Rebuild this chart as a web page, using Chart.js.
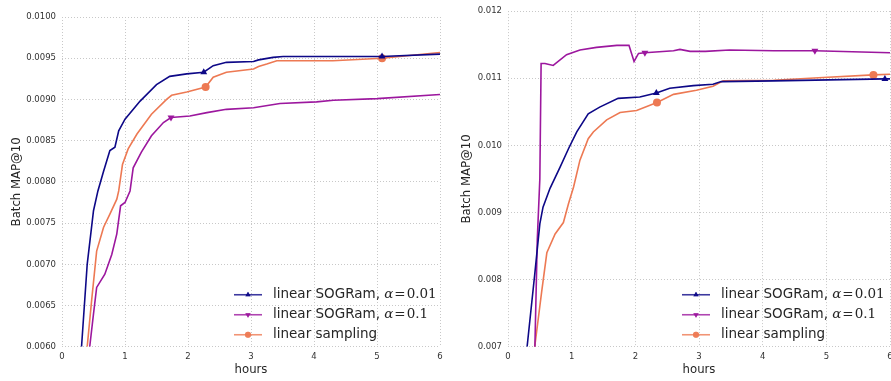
<!DOCTYPE html>
<html>
<head>
<meta charset="utf-8">
<script src="https://cdn.jsdelivr.net/npm/chart.js@4.4.1/dist/chart.umd.min.js"></script>
<style>
  html, body { margin: 0; padding: 0; background: #fff; overflow: hidden; width: 891px; height: 381px; }
  canvas { position: absolute; top: 0; }
  #chartLeft { left: 0; }
  #chartRight { left: 450px; }
</style>
</head>
<body>
<canvas id="chartLeft" width="450" height="381"></canvas>
<canvas id="chartRight" width="450" height="381"></canvas>
<script>
// series names + alpha values for the legend
const seriesNames = ['linear SOGRam, ', 'linear SOGRam, ', 'linear sampling'];
const alphaValues = ['0.01', '0.1', ''];
const colors = ['#0d0887', '#9c179e', '#ed7953'];
const markers = ['triangle', 'triangleDown', 'circle'];

// ---- left panel ----
const leftXTicks = [0, 1, 2, 3, 4, 5, 6];
const leftYTicks = [0.0060, 0.0065, 0.0070, 0.0075, 0.0080, 0.0085, 0.0090, 0.0095, 0.0100];

const leftNavyHours = [0.31, 0.40, 0.50, 0.57, 0.66, 0.76, 0.84, 0.90, 1.00, 1.24, 1.50, 1.71, 1.98, 2.25, 2.40, 2.61, 3.04, 3.12, 3.35, 3.51, 5.08, 6.00];
const leftNavyMap   = [0.0060, 0.0070, 0.00765, 0.00789, 0.00813, 0.00838, 0.00842, 0.00862, 0.00876, 0.00898, 0.00918, 0.00928, 0.00931, 0.00933, 0.00941, 0.00945, 0.00946, 0.00948, 0.00951, 0.00952, 0.00952, 0.00955];
const leftNavyMarks = [2.25, 5.08];

const leftPurpleHours = [0.44, 0.50, 0.55, 0.68, 0.79, 0.87, 0.93, 1.00, 1.08, 1.13, 1.26, 1.42, 1.61, 1.73, 2.03, 2.30, 2.61, 3.04, 3.46, 4.04, 4.31, 5.00, 6.00];
const leftPurpleMap   = [0.0060, 0.0064, 0.00672, 0.00688, 0.00712, 0.00737, 0.00771, 0.00775, 0.00789, 0.00817, 0.00836, 0.00856, 0.00872, 0.00878, 0.0088, 0.00884, 0.00888, 0.0089, 0.00895, 0.00897, 0.00899, 0.00901, 0.00906];
const leftPurpleMarks = [1.73];

const leftOrangeHours = [0.40, 0.47, 0.55, 0.66, 0.76, 0.87, 0.90, 0.96, 1.05, 1.19, 1.42, 1.66, 1.74, 1.98, 2.28, 2.40, 2.61, 3.04, 3.12, 3.25, 3.41, 4.30, 5.08, 6.00];
const leftOrangeMap   = [0.0060, 0.00656, 0.00716, 0.00745, 0.00761, 0.00779, 0.00789, 0.00821, 0.0084, 0.00858, 0.00882, 0.0090, 0.00905, 0.00909, 0.00915, 0.00927, 0.00933, 0.00937, 0.0094, 0.00943, 0.00947, 0.00947, 0.0095, 0.00957];
const leftOrangeMarks = [2.28, 5.08];

// ---- right panel ----
const rightXTicks = [0, 1, 2, 3, 4, 5, 6];
const rightYTicks = [0.007, 0.008, 0.009, 0.010, 0.011, 0.012];

const rightNavyHours = [0.30, 0.42, 0.50, 0.55, 0.66, 0.82, 0.95, 1.08, 1.26, 1.44, 1.73, 2.07, 2.33, 2.54, 2.91, 3.22, 3.35, 4.17, 5.92, 6.00];
const rightNavyMap   = [0.0070, 0.00808, 0.00883, 0.00908, 0.00936, 0.00968, 0.00995, 0.0102, 0.01047, 0.01057, 0.0107, 0.01072, 0.01078, 0.01085, 0.01089, 0.01091, 0.01095, 0.01096, 0.01099, 0.01099];
const rightNavyMarks = [2.33, 5.92];

const rightPurpleHours = [0.42, 0.46, 0.50, 0.52, 0.58, 0.71, 0.92, 1.13, 1.39, 1.71, 1.90, 1.98, 2.05, 2.15, 2.60, 2.70, 2.86, 3.10, 3.48, 4.17, 4.82, 6.00];
const rightPurpleMap   = [0.0069, 0.0086, 0.0095, 0.01122, 0.01122, 0.01119, 0.01135, 0.01142, 0.01146, 0.01149, 0.01149, 0.01125, 0.01137, 0.01138, 0.01141, 0.01143, 0.0114, 0.0114, 0.01142, 0.01141, 0.01141, 0.01138];
const rightPurpleMarks = [2.15, 4.82];

const rightOrangeHours = [0.42, 0.53, 0.61, 0.74, 0.87, 0.95, 1.03, 1.13, 1.26, 1.34, 1.55, 1.76, 2.02, 2.34, 2.60, 2.96, 3.22, 3.38, 4.17, 4.95, 5.74, 6.00];
const rightOrangeMap   = [0.0070, 0.00783, 0.0084, 0.00868, 0.00885, 0.00913, 0.00938, 0.00978, 0.0101, 0.0102, 0.01038, 0.01049, 0.01052, 0.01064, 0.01076, 0.01082, 0.01088, 0.01096, 0.01097, 0.01101, 0.01105, 0.01106];
const rightOrangeMarks = [2.34, 5.74];

const FONT = 'DejaVu Sans';

// draws the matplotlib-style legend (line + marker + text), bottom right of the plot
const lineLegend = {
  id: 'lineLegend',
  afterDatasetsDraw(chart, args, opts) {
    const ctx = chart.ctx;
    const area = chart.chartArea;
    const x0 = area.right - opts.width;
    ctx.save();
    chart.data.datasets.forEach((ds, i) => {
      const y = area.bottom - 12 - (2 - i) * 20;
      ctx.globalAlpha = 0.8;
      ctx.strokeStyle = colors[i];
      ctx.lineWidth = 1.6;
      ctx.beginPath();
      ctx.moveTo(x0, y);
      ctx.lineTo(x0 + 28, y);
      ctx.stroke();
      ctx.fillStyle = colors[i];
      Chart.helpers.drawPoint(ctx, {
        pointStyle: markers[i] === 'triangleDown' ? 'triangle' : markers[i],
        rotation: markers[i] === 'triangleDown' ? 180 : 0,
        radius: 3, borderWidth: 0
      }, x0 + 14, y);
      ctx.fill();
      ctx.globalAlpha = 1;
      ctx.fillStyle = '#262626';
      ctx.textBaseline = 'middle';
      ctx.font = '13.5px "' + FONT + '"';
      let tx = x0 + 39;
      ctx.fillText(seriesNames[i], tx, y);
      if (alphaValues[i]) {
        tx += ctx.measureText(seriesNames[i]).width;
        ctx.font = 'italic 13.5px "DejaVu Serif"';
        ctx.fillText('α', tx, y);
        tx += ctx.measureText('α').width + 1;
        ctx.font = '13.5px "DejaVu Serif"';
        ctx.fillText('=', tx, y);
        tx += ctx.measureText('=').width + 1;
        ctx.fillText(alphaValues[i], tx, y);
      }
    });
    ctx.restore();
  }
};

const toPoints = (hours, vals) => hours.map((h, i) => ({ x: h, y: vals[i] }));

const makeDataset = (i, hours, vals, marks) => ({
  label: seriesNames[i] + (alphaValues[i] ? 'α = ' + alphaValues[i] : ''),
  data: toPoints(hours, vals),
  borderColor: colors[i],
  backgroundColor: colors[i],
  borderWidth: 1.6,
  tension: 0,
  pointStyle: markers[i] === 'triangleDown' ? 'triangle' : markers[i],
  rotation: markers[i] === 'triangleDown' ? 180 : 0,
  pointRadius: c => marks.includes(hours[c.dataIndex]) ? 4 : 0,
  pointBorderWidth: 0,
  pointHoverRadius: 0
});

const makeOptions = (xTicks, yTicks, digits, pad, yWidth, legendWidth) => ({
  responsive: false,
  animation: false,
  events: [],
  layout: { padding: pad },
  plugins: {
    legend: { display: false },
    tooltip: { enabled: false },
    lineLegend: { width: legendWidth }
  },
  scales: {
    x: {
      type: 'linear',
      min: xTicks[0],
      max: xTicks[xTicks.length - 1],
      afterBuildTicks: s => { s.ticks = xTicks.map(v => ({ value: v })); },
      ticks: { color: '#333', font: { family: FONT, size: 8.5 }, padding: 5, maxRotation: 0,
               callback: v => String(v) },
      grid: { color: '#c8c8c8', lineWidth: 1, drawTicks: false },
      border: { display: false, dash: [1, 2] },
      title: { display: true, text: 'hours', color: '#262626',
               font: { family: FONT, size: 11.7 }, padding: { top: -4, bottom: 4 } }
    },
    y: {
      min: yTicks[0],
      max: yTicks[yTicks.length - 1],
      afterBuildTicks: s => { s.ticks = yTicks.map(v => ({ value: v })); },
      afterFit: s => { s.width = yWidth; },
      ticks: { color: '#333', font: { family: FONT, size: 8.5 }, padding: 6,
               callback: v => v.toFixed(digits) },
      grid: { color: '#c8c8c8', lineWidth: 1, drawTicks: false },
      border: { display: false, dash: [1, 2] },
      title: { display: true, text: 'Batch MAP@10', color: '#262626',
               font: { family: FONT, size: 11.7 }, padding: { top: 0, bottom: 3 } }
    }
  }
});

new Chart(document.getElementById('chartLeft'), {
  type: 'line',
  data: {
    datasets: [
      makeDataset(0, leftNavyHours, leftNavyMap, leftNavyMarks),
      makeDataset(1, leftPurpleHours, leftPurpleMap, leftPurpleMarks),
      makeDataset(2, leftOrangeHours, leftOrangeMap, leftOrangeMarks)
    ]
  },
  options: makeOptions(leftXTicks, leftYTicks, 4, { left: 10, top: 17, right: 10, bottom: 0 }, 52, 206),
  plugins: [lineLegend]
});

new Chart(document.getElementById('chartRight'), {
  type: 'line',
  data: {
    datasets: [
      makeDataset(0, rightNavyHours, rightNavyMap, rightNavyMarks),
      makeDataset(1, rightPurpleHours, rightPurpleMap, rightPurpleMarks),
      makeDataset(2, rightOrangeHours, rightOrangeMap, rightOrangeMarks)
    ]
  },
  options: makeOptions(rightXTicks, rightYTicks, 3, { left: 10, top: 11, right: 10, bottom: 0 }, 48, 208),
  plugins: [lineLegend]
});
</script>
</body>
</html>
